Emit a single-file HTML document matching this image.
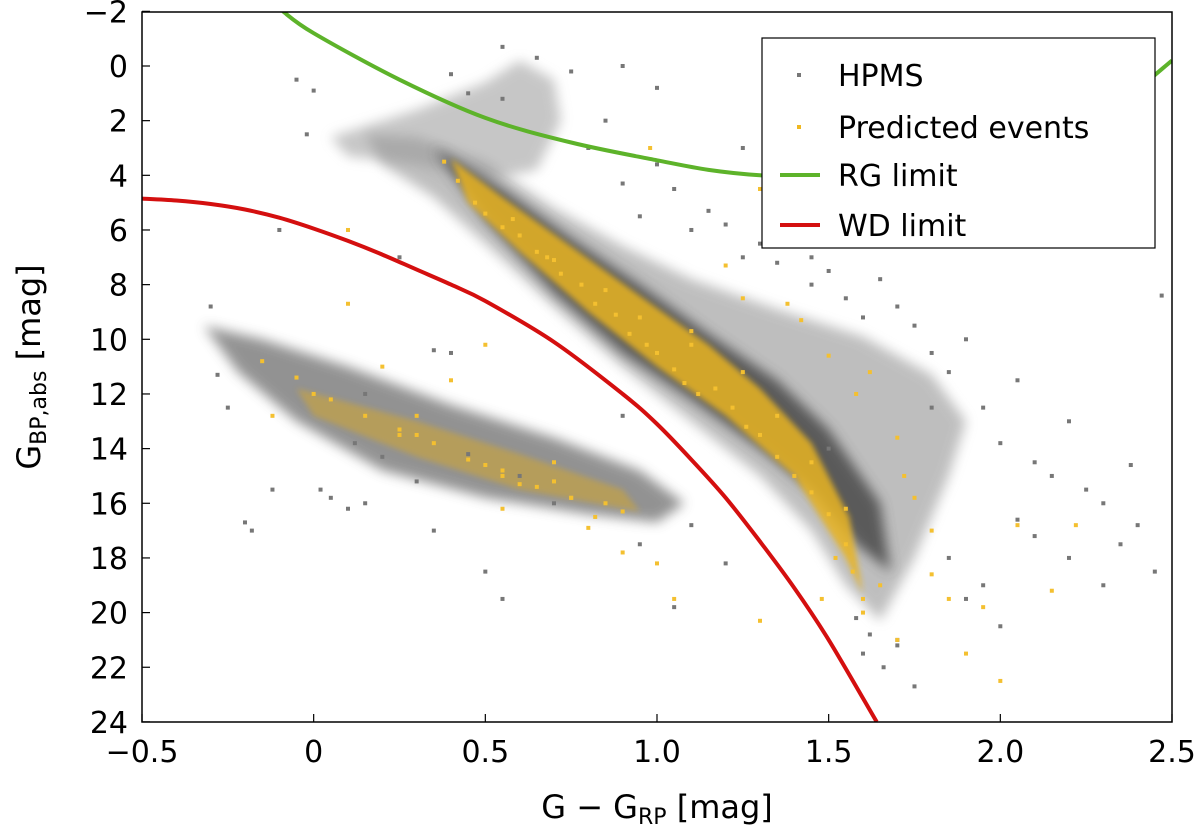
<!DOCTYPE html>
<html><head><meta charset="utf-8">
<style>
body{margin:0;background:#fff;}
svg{display:block;font-family:"DejaVu Sans","Liberation Sans",sans-serif;}
</style></head>
<body>
<svg id="chart" width="1200" height="840" viewBox="0 0 1200 840" xmlns="http://www.w3.org/2000/svg">
<defs>
<filter id="blur" x="-10%" y="-10%" width="120%" height="120%"><feGaussianBlur stdDeviation="6"/></filter>
<filter id="blur2" x="-10%" y="-10%" width="120%" height="120%"><feGaussianBlur stdDeviation="3"/></filter>
<clipPath id="plotclip"><rect x="142" y="12" width="1030" height="710"/></clipPath>
</defs>
<g id="plot" clip-path="url(#plotclip)"></g>
<rect x="142" y="12" width="1030" height="710" fill="none" stroke="#000" stroke-width="1.5"/>
<g id="axes"></g>
<text x="657" y="818" font-size="32" text-anchor="middle">G − G<tspan font-size="22" dy="6">RP</tspan><tspan dy="-6"> [mag]</tspan></text>
<text transform="translate(40,367) rotate(-90)" font-size="32" text-anchor="middle">G<tspan font-size="22" dy="6">BP,abs</tspan><tspan dy="-6"> [mag]</tspan></text>
<g>
<rect x="762" y="38" width="393" height="210" fill="#fff" stroke="#000" stroke-width="1.2"/>
<rect x="797" y="73" width="4" height="4" fill="#777"/>
<text x="838" y="86" font-size="30">HPMS</text>
<rect x="797" y="125" width="4" height="4" fill="#f0b820"/>
<text x="838" y="138" font-size="30">Predicted events</text>
<line x1="780" y1="175" x2="820" y2="175" stroke="#5db32a" stroke-width="4"/>
<text x="838" y="186" font-size="30">RG limit</text>
<line x1="780" y1="225" x2="820" y2="225" stroke="#d40f0f" stroke-width="4"/>
<text x="838" y="236" font-size="30">WD limit</text>
</g>
</svg>
<script>
const xTicks=[-0.5,0,0.5,1.0,1.5,2.0,2.5];
const xTickLabels=["−0.5","0","0.5","1.0","1.5","2.0","2.5"];
const yTicks=[-2,0,2,4,6,8,10,12,14,16,18,20,22,24];
const yTickLabels=["−2","0","2","4","6","8","10","12","14","16","18","20","22","24"];
// RG limit curve (colour, mag)
const rgX=[-0.09,0.0,0.25,0.5,0.75,1.0,1.15,1.3,1.45,1.6,1.8,2.0,2.2,2.35,2.5];
const rgY=[-2,-1.2,0.5,1.9,2.8,3.45,3.8,4.0,4.05,3.95,3.6,3.0,2.2,1.3,-0.2];
// WD limit curve
const wdX=[-0.5,-0.4,-0.3,-0.2,-0.1,0.0,0.1,0.2,0.3,0.4,0.5,0.7,0.9,1.0,1.1,1.2,1.3,1.4,1.5,1.64];
const wdY=[4.85,4.92,5.05,5.25,5.55,5.95,6.4,6.9,7.45,8.0,8.6,10.1,12.0,13.1,14.4,15.8,17.4,19.1,21.0,24.0];
// density regions (colour, mag)
const msOuterX=[0.15,0.3,0.5,0.7,0.9,1.1,1.35,1.6,1.8,1.9,1.85,1.8,1.75,1.65,1.55,1.45,1.3,1.1,0.9,0.7,0.5,0.35,0.2];
const msOuterY=[2.5,2.6,3.5,5.2,6.6,7.8,8.9,9.9,11.3,13,15,16.5,18,20.3,19,17,15,13,11,8.8,6.5,4.8,3.6];
const msCoreX=[0.35,0.55,0.75,0.95,1.15,1.35,1.5,1.65,1.68,1.58,1.45,1.3,1.1,0.9,0.7,0.5];
const msCoreY=[3.0,4.5,6.3,8.0,9.8,11.5,13.3,16,18.5,17.5,15.5,14,12.2,10.5,8.3,5.6];
const wdRegX=[-0.32,-0.15,0.1,0.4,0.7,0.95,1.08,1.0,0.8,0.5,0.2,-0.05,-0.22];
const wdRegY=[9.5,10.0,11.0,12.4,13.6,14.8,16.0,16.7,16.4,15.8,14.8,13.0,11.2];
const clumpX=[0.05,0.3,0.5,0.6,0.7,0.72,0.65,0.5,0.3,0.1];
const clumpY=[2.6,1.6,0.6,-0.2,0.5,2.0,3.8,4.2,3.6,3.3];
// yellow ridge (predicted events dense band)
const ridgeX=[0.4,0.55,0.75,0.95,1.15,1.3,1.45,1.56,1.6,1.55,1.4,1.2,1.0,0.8,0.6,0.45];
const ridgeY=[3.4,4.8,6.6,8.4,10.2,11.8,13.8,16.5,19.3,18,15,12.8,11,9.0,6.8,5.0];
const wdRidgeX=[-0.05,0.3,0.6,0.9,0.95,0.6,0.3,0.0];
const wdRidgeY=[11.8,13.0,14.2,15.5,16.3,15.5,14.3,12.8];
// scattered HPMS points
const hpmsX=[-0.3,-0.28,-0.25,-0.2,-0.18,-0.12,0.02,0.05,0.1,0.15,0.12,0.2,0.3,0.35,0.0,-0.05,0.25,0.4,0.45,0.55,0.8,0.85,0.9,0.95,1.0,1.05,1.1,1.15,1.2,1.25,1.3,1.35,1.4,1.45,1.5,1.55,1.6,1.65,1.7,1.75,1.8,1.85,1.9,1.95,2.0,2.05,2.1,2.15,2.2,2.25,2.3,2.35,2.4,2.47,1.7,1.6,1.75,1.9,2.0,2.1,1.95,1.85,1.66,1.7,1.58,1.62,0.7,0.6,0.35,0.45,0.15,-0.1,0.55,0.5,0.95,1.05,1.2,1.1,0.65,0.75,2.2,2.3,2.05,1.8,1.5,1.45,1.35,1.25,0.9,-0.02,0.9,1.0,0.55,0.4,2.45,2.38];
const hpmsY=[8.8,11.3,12.5,16.7,17.0,15.5,15.5,15.8,16.2,16.0,13.8,14.3,15.2,10.4,0.9,0.5,7.0,10.5,1.0,-0.7,3.0,2.0,4.3,5.5,3.6,4.5,6.0,5.3,5.8,7.0,6.5,7.2,6.0,8.0,7.5,8.5,9.2,7.8,8.8,9.5,10.5,11.2,10.0,12.5,13.8,11.5,14.5,15.0,13.0,15.5,16.0,17.5,16.8,8.4,21.0,21.5,22.7,19.5,20.5,17.2,19.0,18.0,22.0,21.2,20.2,20.8,16.0,15.0,17.0,14.2,12.0,6.0,19.5,18.5,17.5,19.8,18.2,16.8,-0.3,0.2,18.0,19.0,16.6,12.5,14.0,7.0,2.8,3.0,12.8,2.5,0.0,0.8,1.2,0.3,18.5,14.6];
// scattered predicted events
const evX=[0.1,0.1,0.55,0.82,1.0,1.1,1.2,1.25,1.38,1.42,1.5,1.58,1.62,1.7,1.72,1.75,1.8,1.85,1.95,2.05,2.15,2.22,1.7,1.9,2.0,1.8,0.4,0.3,0.6,0.7,0.75,0.9,1.05,1.3,1.48,0.98,1.6,1.65,1.3,0.5,0.2,0.25,0.0,0.55,0.8,-0.12];
const evY=[8.7,6.0,16.2,16.5,18.2,9.7,7.3,8.5,8.7,9.3,10.6,12.0,11.2,13.6,15.0,15.8,17.0,19.5,19.8,16.8,19.2,16.8,21.0,21.5,22.5,18.6,11.5,12.8,15.3,14.5,15.8,17.8,19.5,20.3,19.5,3.0,20.0,19.0,4.5,10.2,11.0,13.5,12.0,14.8,16.9,12.8];
// dense yellow points along main sequence & WD sequence
const ydX=[0.38,0.42,0.47,0.5,0.55,0.6,0.65,0.7,0.72,0.78,0.82,0.88,0.92,0.97,1.0,1.05,1.08,1.12,1.17,1.22,1.26,1.3,1.35,1.4,1.45,1.5,1.55,1.57,1.6,1.52,1.35,1.25,1.1,0.95,0.85,0.68,0.58,1.45,1.55,-0.15,-0.05,0.05,0.15,0.25,0.35,0.45,0.55,0.65,0.75,0.85,0.9,0.3,0.5,0.7];
const ydY=[3.5,4.2,5.0,5.4,5.9,6.2,6.8,7.1,7.6,8.0,8.7,9.1,9.8,10.2,10.5,11.1,11.6,12.0,11.8,12.5,13.2,13.5,14.3,15.0,15.6,16.4,17.5,18.5,19.5,18.0,12.8,11.2,10.2,9.2,8.2,7.0,5.6,14.5,16.2,10.8,11.4,12.2,12.8,13.3,13.8,14.4,15.0,15.4,15.8,16.0,16.3,13.5,14.6,15.2];

const X=c=>142+(c+0.5)*343.33;
const Y=m=>66+27.33*m;
const NS="http://www.w3.org/2000/svg";
const plot=document.getElementById('plot');
const axes=document.getElementById('axes');
function mk(tag,attrs,parent){const e=document.createElementNS(NS,tag);for(const k in attrs)e.setAttribute(k,attrs[k]);parent.appendChild(e);return e;}
function pts(xs,ys){return xs.map((x,i)=>X(x).toFixed(1)+','+Y(ys[i]).toFixed(1)).join(' ');}

let e;
e=mk('polygon',{points:pts(msOuterX,msOuterY),fill:'#8a8a8a',opacity:0.55,filter:'url(#blur)'},plot);


e=mk('polygon',{points:pts(wdRegX,wdRegY),fill:'#808080',opacity:0.85,filter:'url(#blur)'},plot);


e=mk('polygon',{points:pts(clumpX,clumpY),fill:'#999',opacity:0.55,filter:'url(#blur)'},plot);


e=mk('polygon',{points:pts(msCoreX,msCoreY),fill:'#4a4a4a',opacity:0.85,filter:'url(#blur)'},plot);


e=mk('polygon',{points:pts(ridgeX,ridgeY),fill:'#e8b420',opacity:0.85,filter:'url(#blur2)'},plot);


e=mk('polygon',{points:pts(wdRidgeX,wdRidgeY),fill:'#d8a828',opacity:0.5,filter:'url(#blur2)'},plot);



hpmsX.forEach((c,i)=>{
  const r=mk('rect',{x:X(c)-2,y:Y(hpmsY[i])-2,width:4,height:4,fill:'#777'},plot);
  
  
});
ydX.forEach((c,i)=>{
  const r=mk('rect',{x:X(c)-2,y:Y(ydY[i])-2,width:4,height:4,fill:'#f4c030'},plot);
  
  
});
evX.forEach((c,i)=>{
  const r=mk('rect',{x:X(c)-2,y:Y(evY[i])-2,width:4,height:4,fill:'#f4c030'},plot);
  
  
});

// Catmull-Rom smoothed path
function curve(xs,ys){
  const P=xs.map((x,i)=>[X(x),Y(ys[i])]);
  let d='M'+P[0][0].toFixed(1)+','+P[0][1].toFixed(1);
  for(let i=0;i<P.length-1;i++){
    const p0=P[Math.max(0,i-1)],p1=P[i],p2=P[i+1],p3=P[Math.min(P.length-1,i+2)];
    const c1=[p1[0]+(p2[0]-p0[0])/6,p1[1]+(p2[1]-p0[1])/6];
    const c2=[p2[0]-(p3[0]-p1[0])/6,p2[1]-(p3[1]-p1[1])/6];
    d+=' C'+c1[0].toFixed(1)+','+c1[1].toFixed(1)+' '+c2[0].toFixed(1)+','+c2[1].toFixed(1)+' '+p2[0].toFixed(1)+','+p2[1].toFixed(1);
  }
  return d;}
e=mk('path',{d:curve(rgX,rgY),fill:'none',stroke:'#5db32a','stroke-width':4,'stroke-linejoin':'round'},plot);


e=mk('path',{d:curve(wdX,wdY),fill:'none',stroke:'#d40f0f','stroke-width':4,'stroke-linejoin':'round'},plot);



xTicks.forEach((v,i)=>{
  mk('line',{x1:X(v),x2:X(v),y1:722,y2:714,stroke:'#000','stroke-width':1.2},axes);
  const t=mk('text',{x:X(v),y:762,'font-size':30,'text-anchor':'middle'},axes);
  t.textContent=xTickLabels[i];
  
  
});
yTicks.forEach((v,i)=>{
  mk('line',{x1:142,x2:150,y1:Y(v),y2:Y(v),stroke:'#000','stroke-width':1.2},axes);
  const t=mk('text',{x:128,y:Y(v)+11,'font-size':30,'text-anchor':'end'},axes);
  t.textContent=yTickLabels[i];
  
  
});
</script>
</body></html>
